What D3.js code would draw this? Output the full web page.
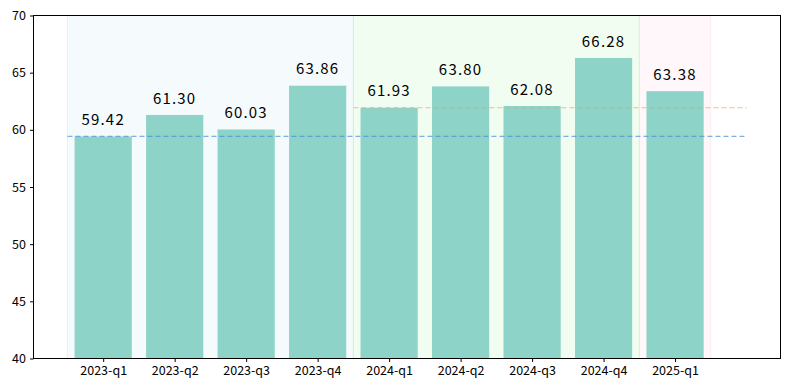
<!DOCTYPE html>
<html>
<head>
<meta charset="utf-8">
<script src="https://cdn.jsdelivr.net/npm/d3@7"></script>
<style>
  body { margin: 0; background: #fff; }
  svg { display: block; font-family: "Noto Sans CJK SC", "DejaVu Sans", sans-serif; }
</style>
</head>
<body>
<svg></svg>
<script>
// quarters and values
let quarters = ["2023-q1","2023-q2","2023-q3","2023-q4","2024-q1","2024-q2","2024-q3","2024-q4","2025-q1"];
let values = [59.42, 61.30, 60.03, 63.86, 61.93, 63.80, 62.08, 66.28, 63.38];
let yTicks = [40, 45, 50, 55, 60, 65, 70];

// year bands: first and last index covered
let bands = [
  {from: 0, to: 3, fill: "#add8e6", edge: "#add8e6"},
  {from: 4, to: 7, fill: "#90ee90", edge: "#90ee90"},
  {from: 8, to: 8, fill: "#ffc0cb", edge: "#ffc0cb"}
];
// reference lines: value, start index
let refLines = [
  {value: 59.42, from: 0, color: "#4a90d9"},
  {value: 61.93, from: 4, color: "#f0a050"}
];

let width = 790, height = 390;
let plotLeft = 33.5, plotRight = 780.5, plotTop = 15.5, plotBottom = 358.5;

let svg = d3.select("svg").attr("width", width).attr("height", height);

let xScale = d3.scaleLinear().domain([-0.975, 9.475]).range([plotLeft, plotRight]);
let yScale = d3.scaleLinear().domain([40, 70]).range([plotBottom, plotTop]);

let step = xScale(1) - xScale(0);
let barW = step * 0.8;

// bands
svg.selectAll("rect.band")
   .data(bands)
   .enter()
   .append("rect")
   .attr("class", "band")
   .attr("x", d => xScale(d.from - 0.5))
   .attr("width", d => xScale(d.to + 0.5) - xScale(d.from - 0.5))
   .attr("y", plotTop)
   .attr("height", plotBottom - plotTop)
   .attr("fill", d => d.fill)
   .attr("fill-opacity", 0.12)
   .attr("stroke", d => d.edge)
   .attr("stroke-opacity", 0.25);

// bars
svg.selectAll("rect.bar")
   .data(values)
   .enter()
   .append("rect")
   .attr("class", "bar")
   .attr("x", (d, i) => xScale(i) - barW / 2)
   .attr("width", barW)
   .attr("y", d => yScale(d))
   .attr("height", d => yScale(40) - yScale(d))
   .attr("fill", "#8dd3c7");

// dashed reference lines
svg.selectAll("line.ref")
   .data(refLines)
   .enter()
   .append("line")
   .attr("class", "ref")
   .attr("x1", d => xScale(d.from - 0.5))
   .attr("x2", xScale(9))
   .attr("y1", d => yScale(d.value))
   .attr("y2", d => yScale(d.value))
   .attr("stroke", d => d.color)
   .attr("stroke-opacity", 0.7)
   .attr("stroke-width", 1.2)
   .attr("stroke-dasharray", "5,3");

// value labels
svg.selectAll("text.val")
   .data(values)
   .enter()
   .append("text")
   .attr("class", "val")
   .attr("x", (d, i) => xScale(i))
   .attr("y", d => yScale(d + 1))
   .attr("text-anchor", "middle")
   .attr("font-size", 15)
   .attr("letter-spacing", 1.2)
   .attr("fill", "#000")
   .text(d => d.toFixed(2));

// axes
let xAxis = d3.axisBottom(xScale)
              .tickValues(d3.range(quarters.length))
              .tickFormat(i => quarters[i])
              .tickSize(3.5)
              .tickPadding(4);
let gx = svg.append("g")
   .attr("transform", "translate(0," + plotBottom + ")")
   .call(xAxis);

let yAxis = d3.axisLeft(yScale)
              .tickValues(yTicks)
              .tickFormat(d3.format("d"))
              .tickSize(3.5)
              .tickPadding(4);
let gy = svg.append("g")
   .attr("transform", "translate(" + plotLeft + ",0)")
   .call(yAxis);

[gx, gy].forEach(g => {
  g.select(".domain").remove();
  g.selectAll("text").attr("font-size", 12.5).attr("fill", "#000")
   .attr("font-family", "\"Noto Sans CJK SC\", sans-serif");
  g.selectAll("line").attr("stroke", "#000");
});

// frame
svg.append("rect")
   .attr("x", plotLeft)
   .attr("y", plotTop)
   .attr("width", plotRight - plotLeft)
   .attr("height", plotBottom - plotTop)
   .attr("fill", "none")
   .attr("stroke", "#000")
   .attr("stroke-width", 1);
</script>
</body>
</html>
